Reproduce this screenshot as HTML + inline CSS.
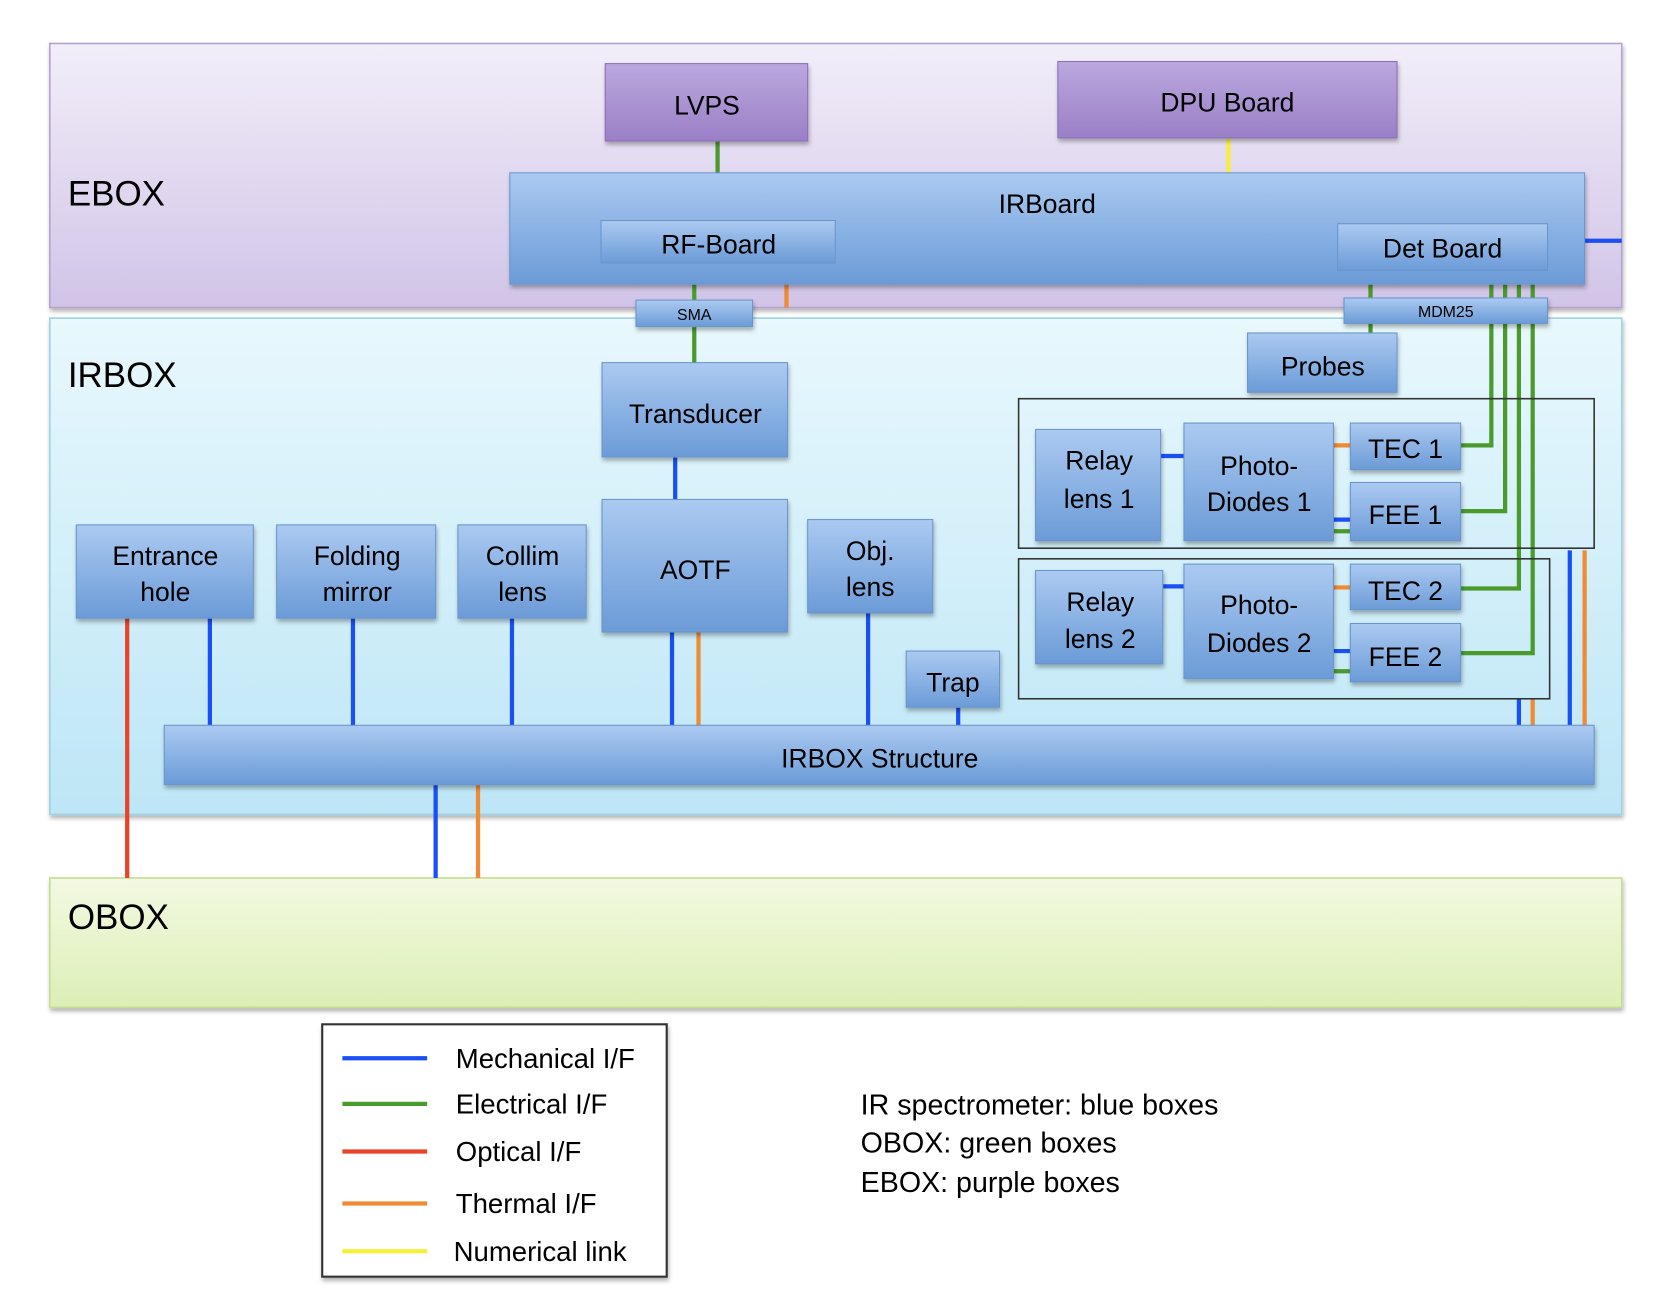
<!DOCTYPE html>
<html><head><meta charset="utf-8"><style>
html,body{margin:0;padding:0;background:#fff;}
svg{display:block;}
text{font-family:"Liberation Sans",sans-serif;fill:#000;}
</style></head><body>
<svg width="1662" height="1300" viewBox="0 0 1568 1226" preserveAspectRatio="none" xmlns="http://www.w3.org/2000/svg">
<defs>
<linearGradient id="gE" x1="0" y1="0" x2="0" y2="1"><stop offset="0" stop-color="#f2eef9"/><stop offset="1" stop-color="#d1c4e7"/></linearGradient>
<linearGradient id="gI" x1="0" y1="0" x2="0" y2="1"><stop offset="0" stop-color="#e8f8fd"/><stop offset="1" stop-color="#bde6f6"/></linearGradient>
<linearGradient id="gO" x1="0" y1="0" x2="0" y2="1"><stop offset="0" stop-color="#f3f9e2"/><stop offset="1" stop-color="#dcefb6"/></linearGradient>
<linearGradient id="gB" x1="0" y1="0" x2="0" y2="1"><stop offset="0" stop-color="#abcaf1"/><stop offset="1" stop-color="#6b9bd7"/></linearGradient>
<linearGradient id="gP" x1="0" y1="0" x2="0" y2="1"><stop offset="0" stop-color="#bba8de"/><stop offset="1" stop-color="#9a7fc6"/></linearGradient>
<filter id="sh" x="-5%" y="-5%" width="115%" height="130%"><feDropShadow dx="1" dy="3" stdDeviation="2" flood-color="#000" flood-opacity="0.3"/></filter>
</defs>
<g filter="url(#sh)">
<rect x="47" y="41" width="1483" height="249" fill="url(#gE)" stroke="#b6a2d0" stroke-width="1.5"/>
<rect x="47" y="300" width="1483" height="468" fill="url(#gI)" stroke="#9dd3e6" stroke-width="1.5"/>
<rect x="47" y="828" width="1483" height="122" fill="url(#gO)" stroke="#c5dd90" stroke-width="1.5"/>
</g>
<text x="64" y="194" font-size="33">EBOX</text>
<text x="64" y="365" font-size="33">IRBOX</text>
<text x="64" y="876" font-size="33">OBOX</text>

<g stroke-width="4" fill="none">
<line x1="677" y1="133" x2="677" y2="163" stroke="#4a9a2c"/>
<line x1="1159" y1="130" x2="1159" y2="163" stroke="#f5f03a"/>
<line x1="655" y1="248" x2="655" y2="342" stroke="#4a9a2c"/>
<line x1="742" y1="248" x2="742" y2="290" stroke="#f08a35"/>
<line x1="1495" y1="227" x2="1530" y2="227" stroke="#1a4ff5"/>
<line x1="1293" y1="255" x2="1293" y2="318" stroke="#4a9a2c"/>
<polyline points="1407,255 1407,420 1378,420" stroke="#4a9a2c"/>
<polyline points="1420,255 1420,482 1378,482" stroke="#4a9a2c"/>
<polyline points="1433,255 1433,555 1378,555" stroke="#4a9a2c"/>
<polyline points="1446,255 1446,616 1378,616" stroke="#4a9a2c"/>
<line x1="637" y1="431" x2="637" y2="471" stroke="#1a4ff5"/>
<line x1="634" y1="596" x2="634" y2="686" stroke="#1a4ff5"/>
<line x1="659" y1="596" x2="659" y2="686" stroke="#f08a35"/>
<line x1="120" y1="583" x2="120" y2="828" stroke="#e8442a"/>
<line x1="198" y1="583" x2="198" y2="686" stroke="#1a4ff5"/>
<line x1="333" y1="583" x2="333" y2="686" stroke="#1a4ff5"/>
<line x1="483" y1="583" x2="483" y2="686" stroke="#1a4ff5"/>
<line x1="819" y1="578" x2="819" y2="686" stroke="#1a4ff5"/>
<line x1="904" y1="667" x2="904" y2="686" stroke="#1a4ff5"/>
<line x1="1433" y1="659" x2="1433" y2="686" stroke="#1a4ff5"/>
<line x1="1446" y1="659" x2="1446" y2="686" stroke="#f08a35"/>
<line x1="1481" y1="519" x2="1481" y2="686" stroke="#1a4ff5"/>
<line x1="1495" y1="519" x2="1495" y2="686" stroke="#f08a35"/>
<line x1="411" y1="740" x2="411" y2="828" stroke="#1a4ff5"/>
<line x1="451" y1="740" x2="451" y2="828" stroke="#f08a35"/>
<line x1="1095" y1="430" x2="1117" y2="430" stroke="#1a4ff5"/>
<line x1="1258" y1="420" x2="1274" y2="420" stroke="#f08a35"/>
<line x1="1258" y1="490" x2="1274" y2="490" stroke="#1a4ff5"/>
<line x1="1258" y1="501" x2="1274" y2="501" stroke="#4a9a2c"/>
<line x1="1097" y1="553" x2="1117" y2="553" stroke="#1a4ff5"/>
<line x1="1258" y1="554" x2="1274" y2="554" stroke="#f08a35"/>
<line x1="1258" y1="614" x2="1274" y2="614" stroke="#1a4ff5"/>
<line x1="1258" y1="633" x2="1274" y2="633" stroke="#4a9a2c"/>
</g>

<rect x="961" y="376" width="543" height="141" fill="none" stroke="#333" stroke-width="1.5"/>
<rect x="961" y="527" width="501" height="132" fill="none" stroke="#333" stroke-width="1.5"/>

<g filter="url(#sh)" stroke-width="1">
<rect x="571" y="60" width="191" height="73" fill="url(#gP)" stroke="#8a70b8"/>
<rect x="998" y="58" width="320" height="72" fill="url(#gP)" stroke="#8a70b8"/>
<g fill="url(#gB)" stroke="#6a95cc">
<rect x="481" y="163" width="1014" height="105"/>
<rect x="567" y="208" width="221" height="40"/>
<rect x="1262" y="211" width="198" height="44"/>
<rect x="600" y="283" width="110" height="25"/>
<rect x="1268" y="281" width="192" height="24"/>
<rect x="1177" y="314" width="141" height="56"/>
<rect x="568" y="342" width="175" height="89"/>
<rect x="568" y="471" width="175" height="125"/>
<rect x="72" y="495" width="167" height="88"/>
<rect x="261" y="495" width="150" height="88"/>
<rect x="432" y="495" width="121" height="88"/>
<rect x="762" y="490" width="118" height="88"/>
<rect x="855" y="614" width="88" height="53"/>
<rect x="155" y="684" width="1349" height="56"/>
<rect x="977" y="405" width="118" height="105"/>
<rect x="1117" y="399" width="141" height="111"/>
<rect x="1274" y="399" width="104" height="44"/>
<rect x="1274" y="455" width="104" height="55"/>
<rect x="977" y="538" width="120" height="88"/>
<rect x="1117" y="532" width="141" height="108"/>
<rect x="1274" y="532" width="104" height="43"/>
<rect x="1274" y="588" width="104" height="55"/>
</g>
</g>

<g font-size="25" text-anchor="middle">
<text x="667" y="108">LVPS</text>
<text x="1158" y="105">DPU Board</text>
<text x="988" y="201">IRBoard</text>
<text x="678" y="239">RF-Board</text>
<text x="1361" y="243">Det Board</text>
<text x="655" y="302" font-size="15">SMA</text>
<text x="1364" y="299" font-size="15">MDM25</text>
<text x="1248" y="354">Probes</text>
<text x="656" y="399">Transducer</text>
<text x="656" y="546">AOTF</text>
<text x="156" y="533">Entrance</text><text x="156" y="567">hole</text>
<text x="337" y="533">Folding</text><text x="337" y="567">mirror</text>
<text x="493" y="533">Collim</text><text x="493" y="567">lens</text>
<text x="821" y="528">Obj.</text><text x="821" y="562">lens</text>
<text x="899" y="652">Trap</text>
<text x="830" y="724">IRBOX Structure</text>
<text x="1037" y="443">Relay</text><text x="1037" y="479">lens 1</text>
<text x="1188" y="448">Photo-</text><text x="1188" y="482">Diodes 1</text>
<text x="1326" y="432">TEC 1</text>
<text x="1326" y="494">FEE 1</text>
<text x="1038" y="576">Relay</text><text x="1038" y="611">lens 2</text>
<text x="1188" y="579">Photo-</text><text x="1188" y="615">Diodes 2</text>
<text x="1326" y="566">TEC 2</text>
<text x="1326" y="628">FEE 2</text>
</g>

<rect x="304" y="966" width="325" height="238" fill="#fff" stroke="#333" stroke-width="2" filter="url(#sh)"/>
<g stroke-width="4">
<line x1="323" y1="998" x2="403" y2="998" stroke="#1a4ff5"/>
<line x1="323" y1="1041" x2="403" y2="1041" stroke="#4a9a2c"/>
<line x1="323" y1="1086" x2="403" y2="1086" stroke="#e8442a"/>
<line x1="323" y1="1135" x2="403" y2="1135" stroke="#f08a35"/>
<line x1="323" y1="1180" x2="403" y2="1180" stroke="#f5f03a"/>
</g>
<g font-size="26">
<text x="430" y="1007">Mechanical I/F</text>
<text x="430" y="1050">Electrical I/F</text>
<text x="430" y="1095">Optical I/F</text>
<text x="430" y="1144">Thermal I/F</text>
<text x="428" y="1189">Numerical link</text>
</g>
<g font-size="27">
<text x="812" y="1051">IR spectrometer: blue boxes</text>
<text x="812" y="1087">OBOX: green boxes</text>
<text x="812" y="1124">EBOX: purple boxes</text>
</g>
</svg>
</body></html>
